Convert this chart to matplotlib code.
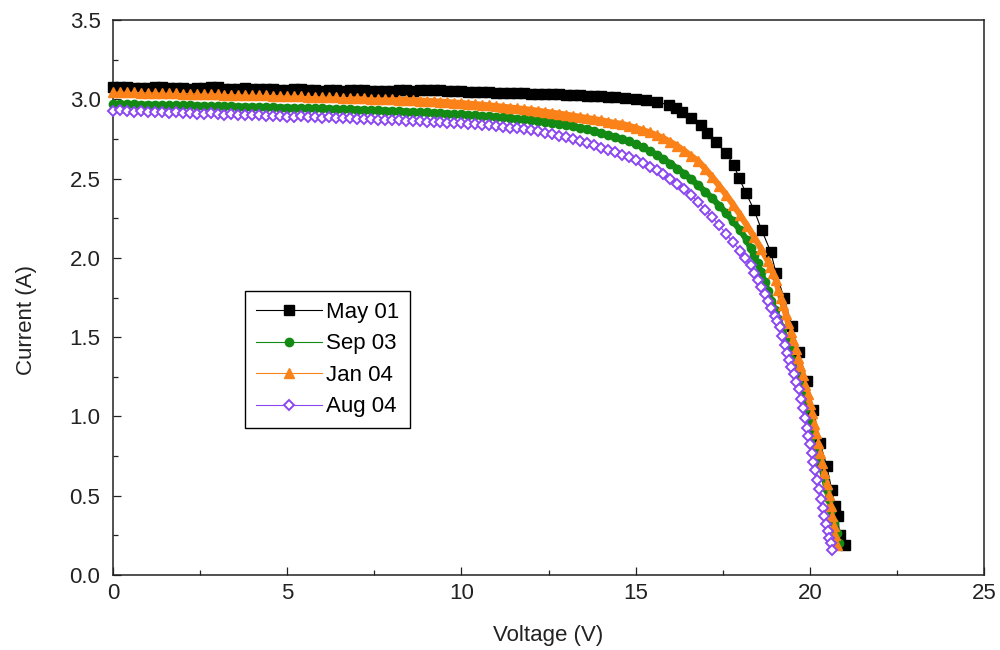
import matplotlib.pyplot as plt
from matplotlib.ticker import MultipleLocator

plt.rcParams['font.family'] = ['Liberation Sans', 'DejaVu Sans']

# shared voltage grid for the flat part of the curves (V)
v_flat = [0.0, 0.2, 0.4, 0.6, 0.8, 1.0, 1.2, 1.4, 1.6, 1.8,
          2.0, 2.2, 2.4, 2.6, 2.8, 3.0, 3.2, 3.4, 3.6, 3.8,
          4.0, 4.2, 4.4, 4.6, 4.8, 5.0, 5.2, 5.4, 5.6, 5.8,
          6.0, 6.2, 6.4, 6.6, 6.8, 7.0, 7.2, 7.4, 7.6, 7.8,
          8.0, 8.2, 8.4, 8.6, 8.8, 9.0, 9.2, 9.4, 9.6, 9.8,
          10.0, 10.2, 10.4, 10.6, 10.8, 11.0, 11.2, 11.4, 11.6, 11.8,
          12.0, 12.2, 12.4, 12.6, 12.8, 13.0, 13.2, 13.4, 13.6, 13.8,
          14.0, 14.2, 14.4]

# May 01
may01_flat = [3.080, 3.080, 3.075, 3.072, 3.070, 3.072, 3.080, 3.076, 3.072, 3.070,
              3.070, 3.066, 3.070, 3.074, 3.076, 3.075, 3.066, 3.064, 3.068, 3.070,
              3.066, 3.062, 3.064, 3.062, 3.060, 3.060, 3.064, 3.062, 3.058, 3.056,
              3.055, 3.060, 3.056, 3.054, 3.056, 3.060, 3.056, 3.052, 3.050, 3.054,
              3.055, 3.058, 3.056, 3.054, 3.056, 3.060, 3.060, 3.058, 3.054, 3.050,
              3.050, 3.046, 3.045, 3.044, 3.044, 3.040, 3.040, 3.040, 3.038, 3.038,
              3.036, 3.035, 3.034, 3.034, 3.032, 3.030, 3.028, 3.026, 3.022, 3.020,
              3.018, 3.015, 3.012]
may01_knee_v = [14.7, 15.0, 15.3, 15.6, 15.96, 16.15, 16.33, 16.59, 16.88, 17.05,
                17.31, 17.59, 17.82, 17.97, 18.17, 18.40, 18.62, 18.88, 19.03, 19.26,
                19.48, 19.68, 19.91, 20.09, 20.29, 20.49, 20.63, 20.72, 20.80, 20.86,
                21.00]
may01_knee_i = [3.008, 3.002, 2.998, 2.985, 2.963, 2.942, 2.919, 2.881, 2.837, 2.787,
                2.730, 2.661, 2.585, 2.503, 2.409, 2.301, 2.175, 2.037, 1.904, 1.747,
                1.570, 1.406, 1.223, 1.040, 0.832, 0.687, 0.536, 0.435, 0.372, 0.252,
                0.190]

# Sep 03
sep03_flat = [2.970, 2.972, 2.969, 2.968, 2.966, 2.966, 2.965, 2.964, 2.963, 2.962,
              2.962, 2.961, 2.960, 2.959, 2.958, 2.957, 2.956, 2.955, 2.954, 2.953,
              2.953, 2.952, 2.951, 2.950, 2.948, 2.947, 2.946, 2.945, 2.944, 2.943,
              2.942, 2.941, 2.939, 2.938, 2.936, 2.935, 2.933, 2.932, 2.930, 2.929,
              2.927, 2.925, 2.923, 2.921, 2.919, 2.917, 2.914, 2.912, 2.910, 2.907,
              2.905, 2.902, 2.899, 2.896, 2.893, 2.890, 2.886, 2.882, 2.878, 2.874,
              2.870, 2.865, 2.859, 2.853, 2.847, 2.840, 2.831, 2.822, 2.811, 2.799,
              2.787, 2.775, 2.763]
sep03_knee_v = [14.6, 14.8, 15.0, 15.2, 15.4, 15.6, 15.8, 16.0, 16.2, 16.4,
                16.6, 16.8, 17.0, 17.2, 17.4, 17.6, 17.8, 18.0, 18.2, 18.3,
                18.4, 18.5, 18.6, 18.7, 18.8, 18.9, 19.0, 19.1, 19.2, 19.3,
                19.4, 19.5, 19.6, 19.7, 19.8, 19.9, 20.0, 20.1, 20.2, 20.3,
                20.4, 20.48, 20.55, 20.62, 20.7, 20.78, 20.85]
sep03_knee_i = [2.750, 2.734, 2.715, 2.697, 2.675, 2.650, 2.623, 2.594, 2.563, 2.530,
                2.495, 2.457, 2.417, 2.375, 2.330, 2.282, 2.230, 2.175, 2.110, 2.060,
                2.015, 1.965, 1.910, 1.850, 1.790, 1.730, 1.670, 1.615, 1.560, 1.495,
                1.430, 1.355, 1.280, 1.205, 1.130, 1.050, 0.970, 0.880, 0.790, 0.705,
                0.620, 0.545, 0.480, 0.410, 0.330, 0.265, 0.200]

# Jan 04
jan04_flat = [3.045, 3.046, 3.044, 3.043, 3.042, 3.040, 3.041, 3.039, 3.038, 3.037,
              3.036, 3.035, 3.034, 3.033, 3.032, 3.031, 3.030, 3.029, 3.028, 3.027,
              3.026, 3.025, 3.024, 3.023, 3.022, 3.021, 3.020, 3.019, 3.017, 3.016,
              3.015, 3.013, 3.012, 3.010, 3.009, 3.007, 3.006, 3.004, 3.003, 3.001,
              3.000, 2.998, 2.996, 2.994, 2.992, 2.990, 2.987, 2.985, 2.982, 2.979,
              2.976, 2.972, 2.969, 2.965, 2.961, 2.957, 2.952, 2.948, 2.943, 2.938,
              2.933, 2.927, 2.921, 2.915, 2.909, 2.903, 2.896, 2.889, 2.882, 2.875,
              2.868, 2.859, 2.850]
jan04_knee_v = [14.6, 14.8, 15.0, 15.2, 15.4, 15.6, 15.8, 16.0, 16.2, 16.4,
                16.6, 16.8, 17.0, 17.2, 17.4, 17.6, 17.8, 18.0, 18.2, 18.4,
                18.6, 18.8, 18.87, 18.95, 19.03, 19.10, 19.17, 19.24, 19.31, 19.38,
                19.45, 19.52, 19.59, 19.66, 19.73, 19.80, 19.87, 19.94, 20.00, 20.06,
                20.12, 20.18, 20.24, 20.30, 20.36, 20.42, 20.48, 20.54, 20.60, 20.65,
                20.69, 20.73, 20.77]
jan04_knee_i = [2.845, 2.833, 2.820, 2.806, 2.791, 2.774, 2.754, 2.731, 2.705, 2.675,
                2.642, 2.610, 2.562, 2.510, 2.455, 2.398, 2.336, 2.271, 2.203, 2.133,
                2.058, 1.980, 1.945, 1.905, 1.860, 1.800, 1.750, 1.700, 1.645, 1.590,
                1.535, 1.480, 1.425, 1.370, 1.315, 1.260, 1.200, 1.140, 1.080, 1.020,
                0.955, 0.895, 0.835, 0.770, 0.705, 0.645, 0.575, 0.505, 0.435, 0.370,
                0.310, 0.250, 0.190]

# Aug 04
aug04_flat = [2.928, 2.935, 2.925, 2.922, 2.926, 2.920, 2.918, 2.921, 2.915, 2.917,
              2.912, 2.915, 2.910, 2.908, 2.911, 2.905, 2.903, 2.906, 2.900, 2.902,
              2.898, 2.900, 2.895, 2.893, 2.896, 2.891, 2.889, 2.892, 2.886, 2.888,
              2.884, 2.886, 2.881, 2.879, 2.882, 2.877, 2.875, 2.878, 2.872, 2.871,
              2.869, 2.868, 2.866, 2.864, 2.862, 2.860, 2.858, 2.856, 2.853, 2.850,
              2.848, 2.845, 2.842, 2.839, 2.835, 2.830, 2.826, 2.821, 2.816, 2.811,
              2.805, 2.798, 2.790, 2.782, 2.771, 2.760, 2.748, 2.736, 2.722, 2.709,
              2.695, 2.680, 2.665]
aug04_knee_v = [14.6, 14.8, 15.0, 15.2, 15.4, 15.6, 15.8, 16.0, 16.2, 16.4,
                16.6, 16.8, 17.0, 17.2, 17.4, 17.6, 17.8, 18.0, 18.15, 18.3,
                18.4, 18.5, 18.6, 18.7, 18.8, 18.9, 19.0, 19.07, 19.14, 19.21,
                19.28, 19.34, 19.40, 19.47, 19.54, 19.61, 19.68, 19.74, 19.80, 19.86,
                19.91, 19.96, 20.00, 20.05, 20.10, 20.14, 20.20, 20.26, 20.32, 20.37,
                20.42, 20.46, 20.51, 20.56, 20.60, 20.63]
aug04_knee_i = [2.650, 2.634, 2.617, 2.598, 2.575, 2.552, 2.528, 2.500, 2.468, 2.432,
                2.394, 2.352, 2.305, 2.255, 2.205, 2.150, 2.098, 2.045, 2.000, 1.955,
                1.905, 1.860, 1.815, 1.775, 1.730, 1.685, 1.635, 1.600, 1.564, 1.510,
                1.450, 1.400, 1.356, 1.310, 1.265, 1.220, 1.173, 1.110, 1.050, 0.990,
                0.930, 0.875, 0.826, 0.770, 0.710, 0.662, 0.600, 0.540, 0.479, 0.425,
                0.370, 0.320, 0.280, 0.235, 0.200, 0.160]

green = "#138a13"
orange = "#fa8219"
purple = "#8a46f0"

fig = plt.figure(figsize=(10, 6.5), dpi=100)
ax = fig.add_axes([0.113, 0.1154, 0.871, 0.8538])

sep_v = v_flat + sep03_knee_v
sep_i = sep03_flat + sep03_knee_i
jan_v = v_flat + jan04_knee_v
jan_i = jan04_flat + jan04_knee_i

ax.plot(v_flat + may01_knee_v, may01_flat + may01_knee_i, color="black", lw=0.8,
        marker="s", ms=6.5, label="May 01", clip_on=False, zorder=3)
# dense markers of the green / orange runs merge into a solid band
ax.plot(sep_v, sep_i, color=green, lw=4.5, solid_capstyle="round", zorder=2.1)
ax.plot(sep_v, sep_i, color=green, lw=0.8, marker="o", ms=6, mec=green,
        label="Sep 03", clip_on=False, zorder=3.1)
ax.plot(jan_v, jan_i, color=orange, lw=4.5, solid_capstyle="round", zorder=2.2)
ax.plot(jan_v, jan_i, color=orange, lw=0.8, marker="^", ms=6.5, mec=orange,
        label="Jan 04", clip_on=False, zorder=3.2)
ax.plot(v_flat + aug04_knee_v, aug04_flat + aug04_knee_i, color=purple, lw=0.8,
        marker="D", ms=5.5, mfc="white", mec=purple, mew=1.4, label="Aug 04",
        clip_on=False, zorder=3.3)

ax.set_xlim(0, 25)
ax.set_ylim(0, 3.5)
ax.xaxis.set_major_locator(MultipleLocator(5))
ax.xaxis.set_minor_locator(MultipleLocator(2.5))
ax.yaxis.set_major_locator(MultipleLocator(0.5))
ax.yaxis.set_minor_locator(MultipleLocator(0.25))
ax.yaxis.set_major_formatter(plt.FormatStrFormatter("%.1f"))
ax.tick_params(which="both", direction="in", top=False, right=False, width=0.9,
               labelsize=16, colors="#222222")
ax.tick_params(which="major", length=6)
ax.tick_params(which="minor", length=3.5)
ax.tick_params(axis="y", pad=9)
ax.tick_params(axis="x", pad=6)
for s in ax.spines.values():
    s.set_linewidth(1.1)
    s.set_color("#222222")

ax.set_xlabel("Voltage (V)", fontsize=16, color="#222222", labelpad=15)
ax.set_ylabel("Current (A)", fontsize=16, color="#222222")
ax.yaxis.set_label_coords(-0.0873, 0.46)

leg = ax.legend(loc="upper left", bbox_to_anchor=(0.1516, 0.512), borderaxespad=0,
                fontsize=16, fancybox=False, edgecolor="black", framealpha=1,
                handlelength=2.95, handletextpad=0.18, labelspacing=0.47,
                borderpad=0.5)
leg.get_frame().set_linewidth(1.0)

fig.savefig("out.png", dpi=100)
